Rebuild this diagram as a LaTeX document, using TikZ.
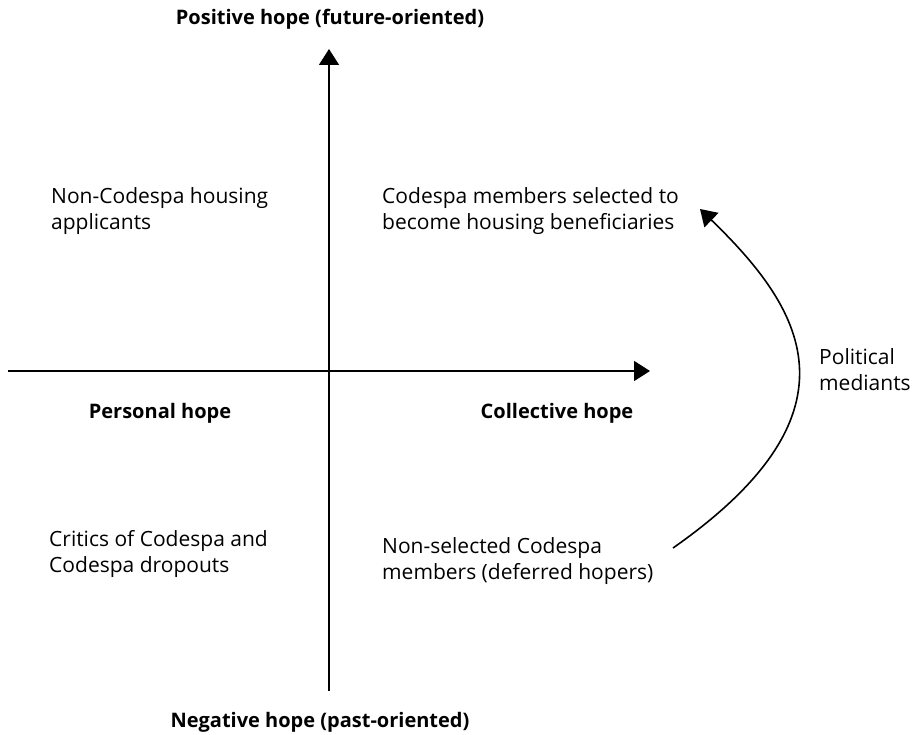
\documentclass[tikz,border=0pt]{standalone}
\usepackage{fontspec}
\setmainfont{Open Sans}
\usetikzlibrary{arrows.meta}
\begin{document}
\begin{tikzpicture}[x=1pt,y=-1pt,
  arr/.style={line width=1.6pt,-{Triangle[length=16pt,width=20pt]}},
  lbl/.style={font=\fontsize{21}{26}\selectfont,align=left,anchor=north west,inner sep=0pt},
  ttl/.style={font=\fontsize{20}{26}\selectfont\bfseries,inner sep=0pt,anchor=base}]
\useasboundingbox (0,0) rectangle (912,735);
\coordinate (vb) at (329,691);
\coordinate (vt) at (329,49);
\coordinate (hl) at (8,371);
\coordinate (hr) at (650,371);
\draw[arr] (vb) -- (vt);
\draw[arr] (hl) -- (hr);
\node[ttl] (pos) at (330,25) {Positive hope (future-oriented)};
\node[ttl] (neg) at (320,727) {Negative hope (past-oriented)};
\node[ttl] (per) at (160,418) {Personal hope};
\node[ttl] (col) at (557,418) {Collective hope};
\node[lbl] (q1) at (51,187) {Non-Codespa housing\\applicants};
\node[lbl] (q2) at (382,187) {Codespa members selected to\\become housing beneficiaries};
\node[lbl] (q3) at (49,530) {Critics of Codespa and\\Codespa dropouts};
\node[lbl] (q4) at (382,537) {Non-selected Codespa\\members (deferred hopers)};
\node[lbl] (pm) at (819,348) {Political\\mediants};
\coordinate (cs) at (673,548);
\coordinate (ce) at (700,209);
\draw[arr] (cs) .. controls (870,410) and (800,306) .. (ce);
\end{tikzpicture}
\end{document}
